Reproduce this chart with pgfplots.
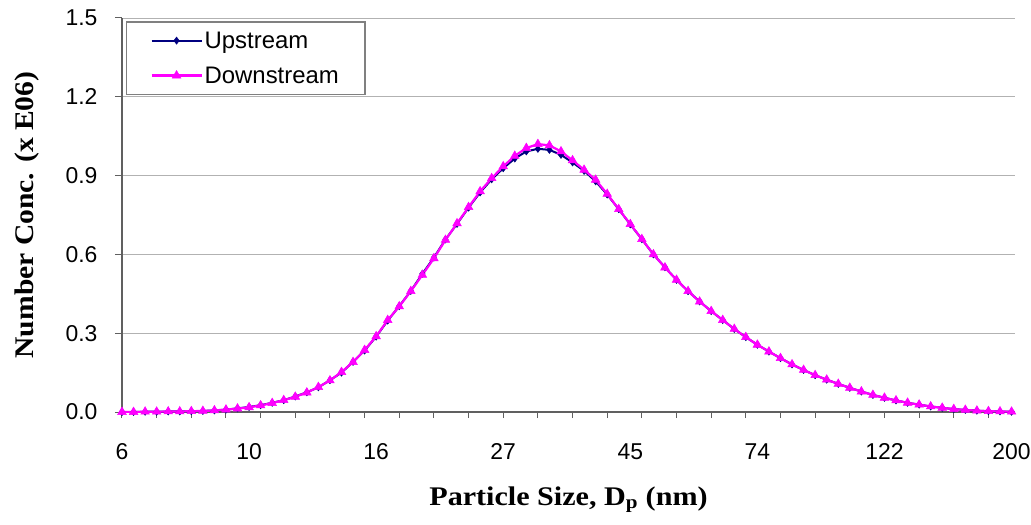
\documentclass[border=0pt]{standalone}
\usepackage{fontspec}
\setmainfont{Liberation Serif}
\newfontfamily\arial{Liberation Sans}
\usepackage{pgfplots}
\usepackage{pgfplotstable}
\pgfplotsset{compat=1.18}

% index = channel number, 0..77 ; label every 11 channels
\pgfplotstableread{
idx up down
0 0.000 0.000
1 0.000 0.000
2 0.001 0.001
3 0.001 0.001
4 0.002 0.002
5 0.002 0.002
6 0.003 0.003
7 0.004 0.004
8 0.006 0.006
9 0.009 0.009
10 0.014 0.013
11 0.019 0.018
12 0.026 0.025
13 0.035 0.034
14 0.045 0.045
15 0.059 0.058
16 0.075 0.074
17 0.094 0.095
18 0.121 0.120
19 0.150 0.152
20 0.191 0.190
21 0.234 0.236
22 0.287 0.288
23 0.348 0.350
24 0.403 0.402
25 0.461 0.460
26 0.526 0.522
27 0.588 0.585
28 0.657 0.655
29 0.716 0.718
30 0.778 0.780
31 0.836 0.840
32 0.886 0.890
33 0.928 0.935
34 0.965 0.975
35 0.992 1.005
36 1.002 1.020
37 0.998 1.015
38 0.979 0.992
39 0.950 0.958
40 0.918 0.922
41 0.878 0.884
42 0.828 0.830
43 0.772 0.772
44 0.714 0.715
45 0.658 0.658
46 0.600 0.600
47 0.551 0.550
48 0.503 0.503
49 0.460 0.460
50 0.421 0.420
51 0.384 0.384
52 0.350 0.350
53 0.316 0.316
54 0.285 0.285
55 0.256 0.256
56 0.230 0.230
57 0.205 0.205
58 0.181 0.181
59 0.160 0.160
60 0.140 0.140
61 0.123 0.123
62 0.107 0.107
63 0.092 0.092
64 0.078 0.078
65 0.065 0.065
66 0.054 0.054
67 0.044 0.044
68 0.035 0.035
69 0.028 0.028
70 0.021 0.021
71 0.016 0.016
72 0.011 0.011
73 0.008 0.008
74 0.005 0.005
75 0.003 0.003
76 0.002 0.002
77 0.001 0.001
}\psd

\definecolor{upcol}{HTML}{000080}
\definecolor{downcol}{HTML}{FF00FF}
\definecolor{axgray}{HTML}{606060}

\begin{document}
\begin{tikzpicture}
\begin{axis}[
  scale only axis,
  width=893bp, height=394bp,
  xmin=0, xmax=77.3,
  ymin=0, ymax=1.5,
  axis x line*=bottom, axis y line*=left,
  axis line style={axgray, line width=1.5bp},
  xtick={0,11,...,77},
  xticklabels={6,10,16,27,45,74,122,200},
  major x tick style={draw=none},
  minor xtick={0,3,...,75},
  minor x tick style={axgray, line width=1bp},
  minor tick length=6bp,
  ytick={0,0.3,...,1.51},
  y tick style={axgray, line width=1bp},
  major tick length=7bp,
  tick align=outside,
  ymajorgrids,
  grid style={gray!60, line width=0.9bp},
  yticklabel style={/pgf/number format/.cd, fixed, fixed zerofill, precision=1},
  /pgf/number format/assume math mode=true,
  tick label style={font=\arial\fontsize{23}{26}\selectfont},
  xticklabel shift=21bp,
  yticklabel shift=14bp,
  xlabel={\scalebox{1.12}[1]{\textbf{Particle Size, D\textsubscript{p} (nm)}}},
  ylabel={\scalebox{1.1}[1]{\textbf{Number Conc. (x E06)}}},
  label style={font=\fontsize{27}{30}\selectfont},
  xlabel style={yshift=-20bp},
  ylabel style={yshift=20bp},
  legend style={at={(rel axis cs:0.004,0.993)}, anchor=north west,
    draw=gray, line width=1.8bp, fill=white,
    font=\arial\fontsize{24}{27}\selectfont,
    row sep=13bp, inner xsep=24bp, inner ysep=8bp},
  legend cell align=left,
  legend image code/.code={
    \draw[mark repeat=2,mark phase=2,#1] plot coordinates {(0bp,0bp) (25bp,0bp) (50bp,0bp)};
  },
]
\addplot[upcol, line width=2bp, mark=diamond*, mark size=3.6bp,
  mark options={solid, fill=upcol, line width=0.5bp}] table[x=idx, y=up] {\psd};
\addlegendentry{Upstream}
\addplot[downcol, line width=2.2bp, mark=triangle*, mark size=5bp,
  mark options={solid, fill=downcol, line width=0.5bp}] table[x=idx, y=down] {\psd};
\addlegendentry{Downstream}
\end{axis}
\pgfresetboundingbox
\path ([shift={(-122bp,-113bp)}]current axis.south west) rectangle ([shift={(16bp,18bp)}]current axis.north east);
\end{tikzpicture}
\end{document}
